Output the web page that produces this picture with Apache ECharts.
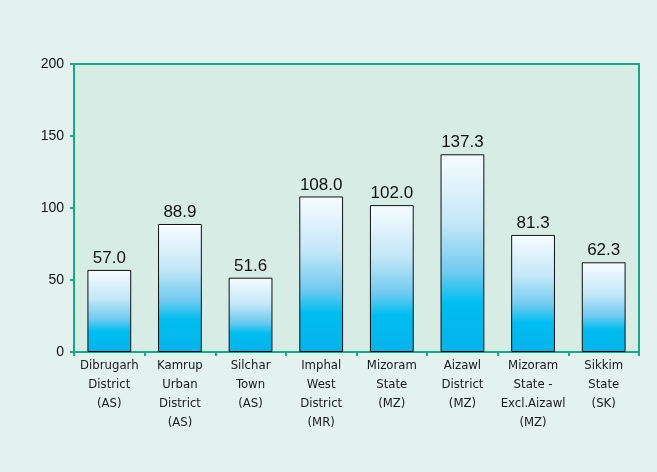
<!DOCTYPE html>
<html>
<head>
<meta charset="utf-8">
<script src="https://cdn.jsdelivr.net/npm/echarts@6/dist/echarts.min.js"></script>
<style>
  html, body { margin: 0; padding: 0; background: #e3f2ee; }
  #chart { width: 657px; height: 472px; }
</style>
</head>
<body>
<div id="chart"></div>
<script>
// categories and values
const categories = [
  'Dibrugarh\nDistrict\n(AS)',
  'Kamrup\nUrban\nDistrict\n(AS)',
  'Silchar\nTown\n(AS)',
  'Imphal\nWest\nDistrict\n(MR)',
  'Mizoram\nState\n(MZ)',
  'Aizawl\nDistrict\n(MZ)',
  'Mizoram\nState -\nExcl.Aizawl\n(MZ)',
  'Sikkim\nState\n(SK)'
]
const values = [57.0, 88.9, 51.6, 108.0, 102.0, 137.3, 81.3, 62.3]

const teal = '#1aa688'
const font = '"Liberation Sans", Arial, sans-serif'
const narrow = '"DejaVu Sans Condensed", "Liberation Sans Narrow", "Liberation Sans", sans-serif'

const chart = echarts.init(document.getElementById('chart'))
chart.setOption({
  backgroundColor: '#e3f2ee',
  animation: false,
  grid: {
    left: 74, right: 18, top: 64, bottom: 120,
    show: true,
    backgroundColor: '#d7ece5',
    borderColor: teal,
    borderWidth: 2
  },
  xAxis: {
    type: 'category',
    data: categories,
    axisLine: { lineStyle: { color: teal, width: 2 } },
    axisTick: { show: true, length: 4, lineStyle: { color: teal, width: 2 } },
    axisLabel: {
      color: '#1a1a1a', fontFamily: narrow, fontSize: 13, lineHeight: 19,
      margin: 4, interval: 0
    }
  },
  yAxis: {
    type: 'value',
    min: 0, max: 200, interval: 50,
    splitLine: { show: false },
    axisLine: { show: true, lineStyle: { color: teal, width: 2 } },
    axisTick: { show: true, length: 4, lineStyle: { color: teal, width: 2 } },
    axisLabel: { color: '#111', fontFamily: font, fontSize: 14, margin: 10 }
  },
  series: [{
    type: 'bar',
    data: values,
    barWidth: '62%',
    itemStyle: {
      borderColor: '#111',
      borderWidth: 1,
      color: new echarts.graphic.LinearGradient(0, 0, 0, 1, [
        { offset: 0, color: '#f7fcff' },
        { offset: 0.35, color: '#c4e7f8' },
        { offset: 0.6, color: '#6fcaf0' },
        { offset: 0.75, color: '#00bdf0' },
        { offset: 1, color: '#07b3ea' }
      ])
    },
    label: {
      show: true,
      position: 'top',
      distance: 3,
      color: '#111',
      fontFamily: font,
      fontSize: 17,
      formatter: p => p.value.toFixed(1)
    }
  }]
})
</script>
</body>
</html>
